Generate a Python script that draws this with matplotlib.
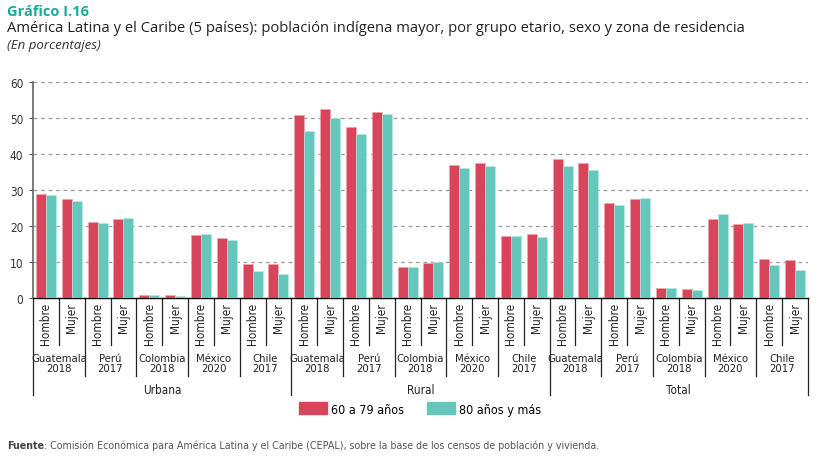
import matplotlib.pyplot as plt
import matplotlib.transforms as mtransforms
import matplotlib.patches as mpatches
from matplotlib import font_manager
import numpy as np

# datos (porcentajes)
zonas = ["Urbana", "Rural", "Total"]
paises = ["Guatemala\n2018", "Perú\n2017", "Colombia\n2018", "México\n2020", "Chile\n2017"]
sexos = ["Hombre", "Mujer"]

# orden: zona -> pais -> sexo
edad_60_79 = [
    29.0, 27.6, 21.2, 22.0, 0.8, 0.7, 17.4, 16.6, 9.5, 9.4,
    50.8, 52.5, 47.6, 51.6, 8.5, 9.8, 37.0, 37.6, 17.3, 17.9,
    38.5, 37.4, 26.4, 27.4, 2.9, 2.4, 21.9, 20.6, 10.9, 10.6,
]
edad_80_mas = [
    28.5, 26.9, 20.8, 22.3, 0.8, 0.5, 17.8, 16.1, 7.4, 6.6,
    46.5, 50.0, 45.5, 51.2, 8.5, 9.9, 36.2, 36.8, 17.2, 16.9,
    36.7, 35.6, 25.7, 27.7, 2.8, 2.3, 23.2, 20.9, 9.2, 7.9,
]

rojo = "#D84459"
verde = "#63C7BC"
titulo_color = "#1AA99A"

# buscar una fuente estrecha si existe
ttf = font_manager.fontManager.ttflist
nombres = {f.name for f in ttf}
if "Liberation Sans Narrow" in nombres:
    narrow = dict(family="Liberation Sans Narrow", stretch="normal")
elif any(f.name == "DejaVu Sans" and "condensed" in str(f.stretch) for f in ttf):
    narrow = dict(family="DejaVu Sans", stretch="condensed")
elif "Roboto Condensed" in nombres:
    narrow = dict(family="Roboto Condensed", stretch="normal")
else:
    narrow = dict(family="Roboto", stretch="normal")


def fp(size, weight="normal"):
    return font_manager.FontProperties(family=narrow["family"], stretch=narrow["stretch"],
                                       size=size, weight=weight)


fig = plt.figure(figsize=(8.24, 4.6), dpi=100)
ax = fig.add_axes([33 / 824, 1 - 299 / 460, 775 / 824, 216 / 460])

n = len(edad_60_79)
x = np.arange(n)
w = 0.39
ax.bar(x - w / 2, edad_60_79, width=w, color=rojo, edgecolor="#F0A8B2", linewidth=0.4, zorder=3)
ax.bar(x + w / 2, edad_80_mas, width=w, color=verde, edgecolor="#BDEAE4", linewidth=0.4, zorder=3)

ax.set_xlim(-0.5, n - 0.5)
ax.set_ylim(0, 60)
ax.set_yticks(range(0, 61, 10))
for t in ax.get_yticklabels():
    t.set_fontproperties(fp(8.5))
    t.set_color("#333333")
ax.tick_params(axis="y", length=3, width=0.8, color="#555555", pad=4)

for v in range(10, 61, 10):
    ax.axhline(v, color="#9A9A9A", linestyle=(0, (3, 3)), linewidth=0.9, zorder=1)

for s in ["top", "right"]:
    ax.spines[s].set_visible(False)
ax.spines["left"].set_color("#666666")
ax.spines["left"].set_linewidth(1.2)
ax.spines["bottom"].set_color("black")
ax.spines["bottom"].set_linewidth(1.0)

# etiquetas Hombre / Mujer
etiquetas = sexos * (len(paises) * len(zonas))
ax.set_xticks(x)
ax.set_xticklabels(etiquetas, rotation=90, color="#222222")
for t in ax.get_xticklabels():
    t.set_fontproperties(fp(8.5))
ax.tick_params(axis="x", length=0, pad=3)

trans = mtransforms.blended_transform_factory(ax.transData, ax.transAxes)
y_sexo = (299 - 346) / 216
y_pais = (299 - 377) / 216
y_zona = (299 - 396) / 216

for b in range(n + 1):
    xb = b - 0.5
    if b % 10 == 0:
        yb = y_zona
    elif b % 2 == 0:
        yb = y_pais
    else:
        yb = y_sexo
    ax.plot([xb, xb], [0, yb], transform=trans, color="#222222", linewidth=0.9, clip_on=False)

for z in range(len(zonas)):
    for p in range(len(paises)):
        xc = z * 10 + p * 2 + 0.5
        ax.text(xc, (299 - 364) / 216, paises[p], transform=trans, ha="center", va="center",
                fontproperties=fp(8.1), color="#222222", linespacing=1.05)
    ax.text(z * 10 + 4.5, (299 - 390) / 216, zonas[z], transform=trans, ha="center", va="center",
            fontproperties=fp(8.5), color="#222222")

# leyenda
h1 = mpatches.Patch(color=rojo, label="60 a 79 años")
h2 = mpatches.Patch(color=verde, label="80 años y más")
fig.legend(handles=[h1, h2], loc="center", bbox_to_anchor=(420 / 824, 1 - 410 / 460), ncol=2,
           frameon=False, prop=fp(9),
           handlelength=2.3, handleheight=1.1, handletextpad=0.3, columnspacing=1.8)

# titulos
fig.text(7 / 824, 1 - 12 / 460, "Gráfico I.16", fontsize=10.5, fontweight="bold", color=titulo_color,
         fontfamily="Open Sans", va="center")
fig.text(7 / 824, 1 - 28 / 460,
         "América Latina y el Caribe (5 países): población indígena mayor, por grupo etario, sexo y zona de residencia",
         fontsize=10.6, color="#222222", fontfamily="Open Sans", va="center")
fig.text(7 / 824, 1 - 45 / 460, "(En porcentajes)", fontsize=9.5, style="italic", color="#333333",
         fontfamily="Open Sans", va="center")

# fuente
t_f = fig.text(7 / 824, 1 - 446 / 460, "Fuente", fontproperties=fp(7.7, "bold"), color="#444444", va="center")
r = fig.canvas.get_renderer()
ancho = t_f.get_window_extent(renderer=r).width
fig.text((7 + ancho) / 824, 1 - 446 / 460,
         ": Comisión Económica para América Latina y el Caribe (CEPAL), sobre la base de los censos de población y vivienda.",
         fontproperties=fp(7.7), color="#555555", va="center")

fig.savefig("out.png", dpi=100, facecolor="white")
